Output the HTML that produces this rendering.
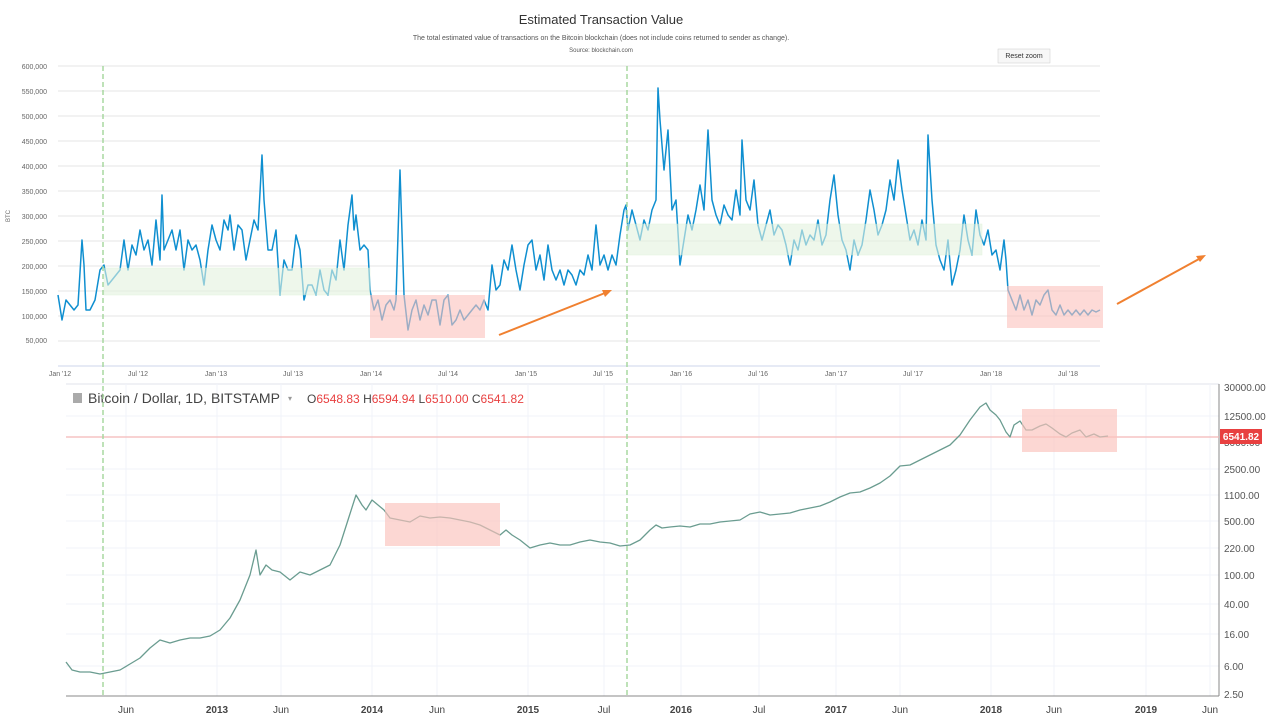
<!DOCTYPE html><html><head><meta charset="utf-8"><style>body{margin:0;background:#fff;font-family:"Liberation Sans",sans-serif}</style></head><body>
<svg width="1269" height="717" viewBox="0 0 1269 717" xmlns="http://www.w3.org/2000/svg" font-family="Liberation Sans, sans-serif">
<rect width="1269" height="717" fill="#fff"/>
<text x="601" y="24" font-size="13" fill="#333" text-anchor="middle">Estimated Transaction Value</text>
<text x="601" y="40" font-size="7" fill="#555" text-anchor="middle">The total estimated value of transactions on the Bitcoin blockchain (does not include coins returned to sender as change).</text>
<text x="601" y="52" font-size="6" fill="#555" text-anchor="middle">Source: blockchain.com</text>
<rect x="998" y="49" width="52" height="14" fill="#f7f7f7" stroke="#ccc" stroke-width="0.5"/>
<text x="1024" y="58" font-size="7" fill="#333" text-anchor="middle">Reset zoom</text>
<g stroke="#e6e6e6" stroke-width="1">
<line x1="58" x2="1100" y1="66" y2="66"/><line x1="58" x2="1100" y1="91" y2="91"/><line x1="58" x2="1100" y1="116" y2="116"/><line x1="58" x2="1100" y1="141" y2="141"/><line x1="58" x2="1100" y1="166" y2="166"/><line x1="58" x2="1100" y1="191" y2="191"/><line x1="58" x2="1100" y1="216" y2="216"/><line x1="58" x2="1100" y1="241" y2="241"/><line x1="58" x2="1100" y1="266" y2="266"/><line x1="58" x2="1100" y1="291" y2="291"/><line x1="58" x2="1100" y1="316" y2="316"/><line x1="58" x2="1100" y1="341" y2="341"/>
</g>
<line x1="58" x2="1100" y1="366" y2="366" stroke="#ccd6eb"/>
<g font-size="7" fill="#666" text-anchor="end">
<text x="47" y="69">600,000</text><text x="47" y="94">550,000</text><text x="47" y="119">500,000</text><text x="47" y="144">450,000</text><text x="47" y="169">400,000</text><text x="47" y="194">350,000</text><text x="47" y="219">300,000</text><text x="47" y="244">250,000</text><text x="47" y="269">200,000</text><text x="47" y="294">150,000</text><text x="47" y="319">100,000</text><text x="47" y="343">50,000</text>
</g>
<text x="10" y="216" font-size="6" fill="#666" transform="rotate(-90 10 216)" text-anchor="middle">BTC</text>
<g font-size="7" fill="#666" text-anchor="middle">
<text x="60" y="376">Jan '12</text><text x="138" y="376">Jul '12</text><text x="216" y="376">Jan '13</text><text x="293" y="376">Jul '13</text><text x="371" y="376">Jan '14</text><text x="448" y="376">Jul '14</text><text x="526" y="376">Jan '15</text><text x="603" y="376">Jul '15</text><text x="681" y="376">Jan '16</text><text x="758" y="376">Jul '16</text><text x="836" y="376">Jan '17</text><text x="913" y="376">Jul '17</text><text x="991" y="376">Jan '18</text><text x="1068" y="376">Jul '18</text>
</g>
<polyline fill="none" stroke="#0f8fd0" stroke-width="1.5" stroke-linejoin="round" points="58,295 62,320 66,300 70,305 74,310 78,305 82,240 84,265 86,310 90,310 95,300 100,270 104,265 108,285 112,280 116,275 120,270 124,240 128,270 132,245 136,255 140,230 144,250 148,240 152,265 156,220 160,260 162,195 164,250 168,240 172,230 176,250 180,230 184,270 188,240 192,250 196,245 200,260 204,285 208,250 212,225 216,240 220,250 224,220 228,230 230,215 234,250 238,225 242,230 246,260 250,240 254,220 258,230 262,155 264,200 268,250 272,250 276,230 280,295 284,260 288,270 292,270 296,235 300,250 304,300 308,285 312,285 316,295 320,270 324,290 328,295 332,270 336,280 340,240 344,270 348,225 352,195 354,230 356,215 360,250 364,245 368,250 370,290 374,310 378,300 382,320 386,305 390,300 394,310 396,300 400,170 404,295 408,330 412,310 416,300 420,320 424,305 428,315 432,300 436,300 440,325 444,300 448,295 452,325 456,320 460,310 464,320 468,315 472,310 476,305 480,310 484,300 488,310 492,265 496,290 500,285 504,260 508,270 512,245 516,270 520,290 524,265 528,245 532,240 536,270 540,255 544,280 548,245 552,270 556,280 560,270 564,285 568,270 572,275 576,285 580,270 584,275 588,255 592,270 596,225 600,265 604,255 608,270 612,255 616,265 620,235 624,210 626,205 628,230 632,210 636,225 640,240 644,220 648,230 652,210 656,200 658,88 660,120 664,170 668,130 672,210 676,200 680,265 684,240 688,215 692,230 696,210 700,185 704,210 708,130 712,200 716,215 720,225 724,205 728,215 732,220 736,190 740,215 742,140 746,200 750,210 754,180 758,225 762,240 766,225 770,210 774,235 778,225 782,230 786,245 790,265 794,240 798,250 802,230 806,245 810,235 814,240 818,220 822,245 826,235 830,200 834,175 838,215 842,240 846,250 850,270 854,240 858,255 862,245 866,220 870,190 874,210 878,235 882,225 886,210 890,180 894,200 898,160 902,190 906,215 910,240 914,230 918,245 922,220 926,240 928,135 932,200 936,245 940,260 944,270 948,240 952,285 956,270 960,250 964,215 968,240 972,255 976,210 980,235 984,245 988,230 992,255 996,250 1000,270 1004,240 1006,260 1008,290 1012,300 1016,310 1020,295 1024,310 1028,300 1032,315 1036,300 1040,305 1044,295 1048,290 1052,310 1056,315 1060,305 1064,315 1068,310 1072,315 1076,310 1080,315 1084,310 1088,315 1092,310 1096,312 1100,310"/>
<rect x="104" y="268" width="266" height="27" fill="#e3f3df" opacity="0.6" stroke="#d0ebc8" stroke-width="0.5"/>
<rect x="627" y="224" width="355" height="31" fill="#e3f3df" opacity="0.6" stroke="#d0ebc8" stroke-width="0.5"/>
<rect x="370" y="295" width="115" height="43" fill="#fbc2bc" opacity="0.6"/>
<rect x="1007" y="286" width="96" height="42" fill="#fbc2bc" opacity="0.6"/>
<g stroke="#f08030" stroke-width="2" fill="#f08030">
<line x1="499" y1="335" x2="605" y2="293"/><polygon points="612,290 602,290 605,297" stroke="none"/>
<line x1="1117" y1="304" x2="1199" y2="259"/><polygon points="1206,255 1196,256 1200,262" stroke="none"/>
</g>
<line x1="66" x2="1219" y1="384" y2="384" stroke="#e0e3eb"/>
<g stroke="#f0f3fa" stroke-width="1">
<line x1="66" x2="1219" y1="416" y2="416"/><line x1="66" x2="1219" y1="469" y2="469"/><line x1="66" x2="1219" y1="495" y2="495"/><line x1="66" x2="1219" y1="521" y2="521"/><line x1="66" x2="1219" y1="548" y2="548"/><line x1="66" x2="1219" y1="575" y2="575"/><line x1="66" x2="1219" y1="604" y2="604"/><line x1="66" x2="1219" y1="634" y2="634"/><line x1="66" x2="1219" y1="666" y2="666"/>
<line x1="126" x2="126" y1="384" y2="696"/><line x1="217" x2="217" y1="384" y2="696"/><line x1="281" x2="281" y1="384" y2="696"/><line x1="372" x2="372" y1="384" y2="696"/><line x1="437" x2="437" y1="384" y2="696"/><line x1="528" x2="528" y1="384" y2="696"/><line x1="604" x2="604" y1="384" y2="696"/><line x1="681" x2="681" y1="384" y2="696"/><line x1="759" x2="759" y1="384" y2="696"/><line x1="836" x2="836" y1="384" y2="696"/><line x1="900" x2="900" y1="384" y2="696"/><line x1="991" x2="991" y1="384" y2="696"/><line x1="1054" x2="1054" y1="384" y2="696"/><line x1="1146" x2="1146" y1="384" y2="696"/><line x1="1210" x2="1210" y1="384" y2="696"/>
</g>
<line x1="1219" x2="1219" y1="384" y2="696" stroke="#888"/>
<line x1="66" x2="1219" y1="696" y2="696" stroke="#888"/>
<g font-size="10" fill="#555">
<text x="1224" y="391">30000.00</text><text x="1224" y="420">12500.00</text><text x="1224" y="446">5000.00</text><text x="1224" y="473">2500.00</text><text x="1224" y="499">1100.00</text><text x="1224" y="525">500.00</text><text x="1224" y="552">220.00</text><text x="1224" y="579">100.00</text><text x="1224" y="608">40.00</text><text x="1224" y="638">16.00</text><text x="1224" y="670">6.00</text><text x="1224" y="698">2.50</text>
</g>
<line x1="66" x2="1219" y1="437" y2="437" stroke="#f4b8b8" stroke-width="1.2"/>
<rect x="1220" y="429" width="42" height="15" fill="#e84040"/>
<text x="1241" y="440" font-size="10" fill="#fff" text-anchor="middle" font-weight="bold">6541.82</text>
<g font-size="10" fill="#444" text-anchor="middle">
<text x="126" y="713">Jun</text><text x="217" y="713" font-weight="bold">2013</text><text x="281" y="713">Jun</text><text x="372" y="713" font-weight="bold">2014</text><text x="437" y="713">Jun</text><text x="528" y="713" font-weight="bold">2015</text><text x="604" y="713">Jul</text><text x="681" y="713" font-weight="bold">2016</text><text x="759" y="713">Jul</text><text x="836" y="713" font-weight="bold">2017</text><text x="900" y="713">Jun</text><text x="991" y="713" font-weight="bold">2018</text><text x="1054" y="713">Jun</text><text x="1146" y="713" font-weight="bold">2019</text><text x="1210" y="713">Jun</text>
</g>
<rect x="73" y="393" width="9" height="10" fill="#aaa"/>
<text x="88" y="403" font-size="14" fill="#444">Bitcoin / Dollar, 1D, BITSTAMP</text>
<text x="288" y="401" font-size="8" fill="#999">▾</text>
<g font-size="12">
<text x="307" y="403" fill="#444">O<tspan fill="#e84040">6548.83</tspan> H<tspan fill="#e84040">6594.94</tspan> L<tspan fill="#e84040">6510.00</tspan> C<tspan fill="#e84040">6541.82</tspan></text>
</g>
<polyline fill="none" stroke="#6a9c90" stroke-width="1.3" stroke-linejoin="round" points="66,662 72,670 80,672 90,672 100,674 110,672 120,670 130,664 140,658 150,648 160,640 170,643 180,640 190,638 200,638 210,636 220,630 230,618 240,600 250,575 256,550 260,575 266,565 272,570 280,572 290,580 300,572 310,575 320,570 330,565 340,545 348,520 356,495 362,505 366,510 372,500 378,505 384,510 390,518 400,520 410,522 420,516 430,518 440,517 450,518 460,520 470,522 480,525 490,530 500,535 506,530 512,535 520,540 530,548 540,545 550,543 560,545 570,545 580,542 590,540 600,542 610,543 620,546 630,545 640,540 650,530 656,525 662,528 670,527 680,526 690,527 700,524 710,524 720,522 730,521 740,520 750,514 760,512 770,515 780,514 790,513 800,510 810,508 820,506 830,502 840,497 850,493 860,492 870,488 880,483 890,476 900,466 910,465 920,460 930,455 940,450 950,445 960,435 970,420 980,407 986,403 990,410 996,415 1000,420 1006,432 1010,437 1014,425 1020,421 1026,430 1032,430 1040,426 1046,424 1052,428 1060,434 1066,437 1072,433 1080,430 1086,437 1094,434 1100,437 1108,436"/>
<rect x="385" y="503" width="115" height="43" fill="#fbc2bc" opacity="0.65"/>
<rect x="1022" y="409" width="95" height="43" fill="#fbc2bc" opacity="0.65"/>
<g stroke="#a8d8a0" stroke-width="1.5" stroke-dasharray="5,3">
<line x1="103" x2="103" y1="66" y2="696"/><line x1="627" x2="627" y1="66" y2="696"/>
</g>
</svg>
</body></html>
